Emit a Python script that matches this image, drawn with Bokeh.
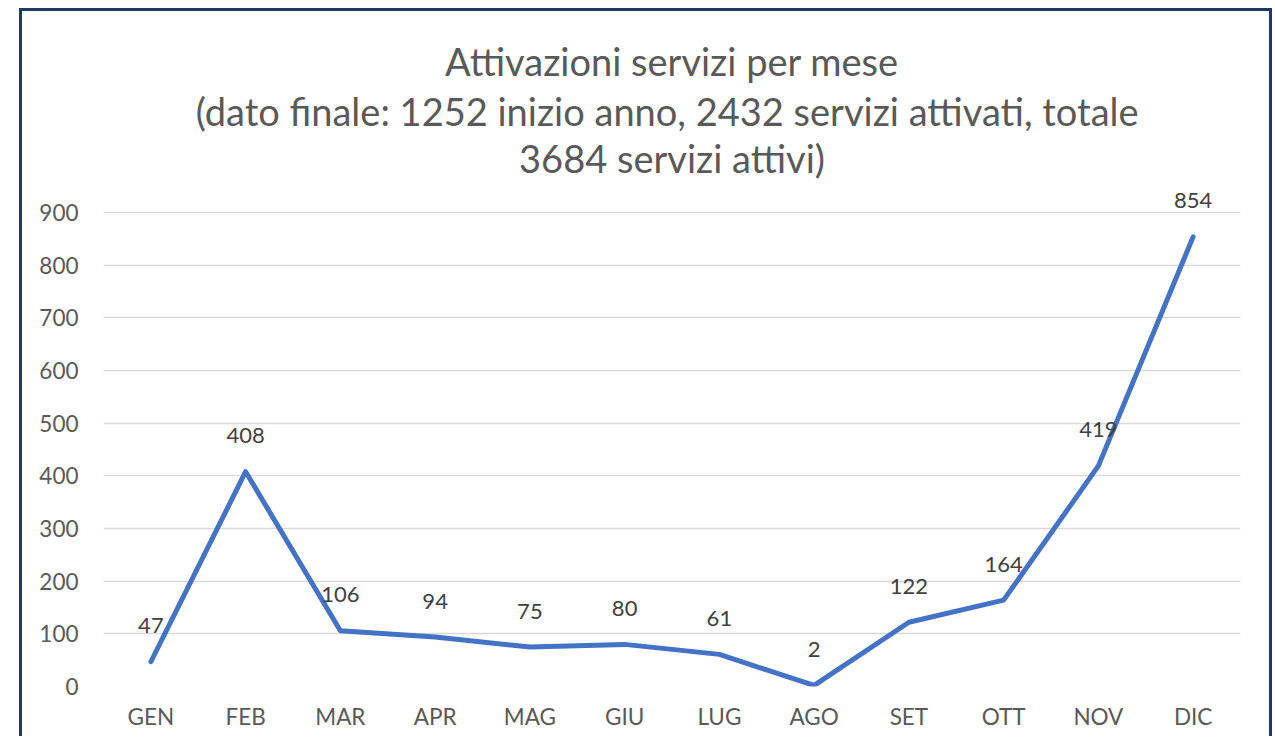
from bokeh.plotting import figure
from bokeh.models import Range1d, FixedTicker, Label, ColumnDataSource
from bokeh.core.properties import value
from bokeh.embed import file_html
from bokeh.resources import INLINE

# ---- data ----
months = ["GEN", "FEB", "MAR", "APR", "MAG", "GIU", "LUG", "AGO", "SET", "OTT", "NOV", "DIC"]
attivazioni = [47, 408, 106, 94, 75, 80, 61, 2, 122, 164, 419, 854]
y_ticks = [0, 100, 200, 300, 400, 500, 600, 700, 800, 900]
title_lines = [
    "Attivazioni servizi per mese",
    "(dato finale:  1252 inizio anno, 2432 servizi attivati, totale",
    "3684 servizi attivi)",
]

FONT = "Lato"
x_idx = list(range(len(months)))
src = ColumnDataSource(dict(x=x_idx, y=attivazioni, lab=[str(v) for v in attivazioni]))

p = figure(
    frame_width=1137, frame_height=666,
    min_border_left=81, min_border_right=29, min_border_top=9, min_border_bottom=50,
    x_range=Range1d(-0.5, 11.5), y_range=Range1d(0, 1265),
    output_backend="svg", toolbar_location=None, tools="",
)
p.styles = {"margin-left": "19px", "margin-top": "8px",
            "border-top": "3px solid #1F3A68",
            "border-left": "3px solid #1F3A68", "border-right": "3px solid #1F3A68"}
p.outline_line_color = None
p.background_fill_color = "white"
p.border_fill_color = "white"

# axes
p.xaxis.ticker = FixedTicker(ticks=x_idx)
p.xaxis.major_label_overrides = {i: m for i, m in enumerate(months)}
p.yaxis.ticker = FixedTicker(ticks=y_ticks)
for ax in (p.xaxis, p.yaxis):
    ax.axis_line_color = None
    ax.major_tick_line_color = None
    ax.minor_tick_line_color = None
    ax.major_label_text_font = FONT
    ax.major_label_text_font_size = "22.5px"
    ax.major_label_text_color = "#595959"
p.xaxis.major_label_standoff = 10
p.yaxis.major_label_standoff = 19

p.xgrid.grid_line_color = None
p.ygrid.ticker = FixedTicker(ticks=y_ticks)
p.ygrid.grid_line_color = "#D9D9D9"
p.ygrid.grid_line_width = 1.5

# line
p.line("x", "y", source=src, line_color="#4472C4", line_width=5,
       line_join="round", line_cap="round")

# data labels
p.text("x", "y", text="lab", source=src, text_align="center", text_baseline="middle",
       y_offset=-36, text_font=value(FONT), text_font_size="22px", text_color="#404040")

# title (three centred lines)
title_y = [1188, 1094, 1003]
for t, ty in zip(title_lines, title_y):
    p.add_layout(Label(x=5.5, y=ty, text=t, text_align="center", text_baseline="middle",
                       x_offset=0, text_font=FONT, text_font_size="38px",
                       text_color="#595959"))

open("out.html", "w").write(file_html(p, INLINE))
